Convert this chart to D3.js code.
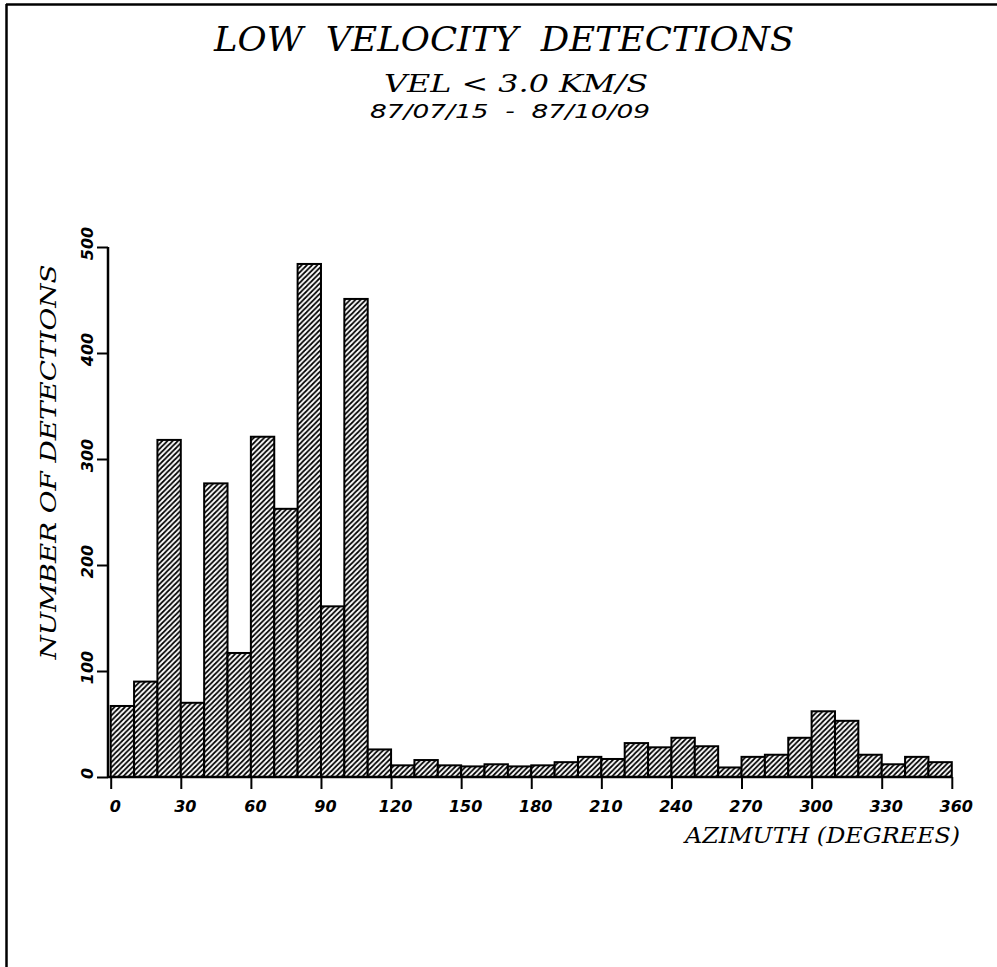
<!DOCTYPE html>
<html><head><meta charset="utf-8">
<script src="https://cdn.jsdelivr.net/npm/d3@7"></script>
<style>
body{margin:0;background:#fff;}
svg{display:block;}
text{white-space:pre;}
</style></head>
<body>
<script>
// Histogram bins: start azimuth (degrees), 10-degree bins
const binStarts = d3.range(0, 360, 10);
const counts = [67, 90, 318, 70, 277, 117, 321, 253, 484, 161, 451, 26,
                11, 16, 11, 10, 12, 10, 11, 14, 19, 17, 32, 28,
                37, 29, 9, 19, 21, 37, 62, 53, 21, 12, 19, 14];
const xTicks = [0, 30, 60, 90, 120, 150, 180, 210, 240, 270, 300, 330, 360];
const yTicks = [0, 100, 200, 300, 400, 500];
const titleLines = ["LOW  VELOCITY  DETECTIONS", "VEL < 3.0 KM/S", "87/07/15  -  87/10/09"];
const xLabel = "AZIMUTH (DEGREES)";
const yLabel = "NUMBER OF DETECTIONS";

const W = 997, H = 967;
const svg = d3.select("body").append("svg").attr("width", W).attr("height", H);

// hatch pattern
const defs = svg.append("defs");
const P = 5.2;
const pat = defs.append("pattern").attr("id", "hatch").attr("patternUnits", "userSpaceOnUse")
  .attr("width", P).attr("height", P);
pat.append("rect").attr("width", P).attr("height", P).attr("fill", "#fff");
pat.append("path").attr("d", `M-1,1 l2,-2 M0,${P} l${P},-${P} M${P-1},${P+1} l2,-2`)
  .attr("stroke", "#000").attr("stroke-width", 1.7);

// frame
svg.append("line").attr("x1", 6).attr("x2", W).attr("y1", 4.5).attr("y2", 4.5).attr("stroke", "#000").attr("stroke-width", 2.5);
svg.append("line").attr("x1", 6.5).attr("x2", 6.5).attr("y1", 4).attr("y2", H).attr("stroke", "#000").attr("stroke-width", 2.5);

const x = d3.scaleLinear().domain([0, 360]).range([110.7, 951.8]);
const y = d3.scaleLinear().domain([0, 500]).range([777, 247]);

// bars
svg.append("g").selectAll("rect").data(binStarts).join("rect")
  .attr("x", d => x(d))
  .attr("y", (d, i) => y(counts[i]))
  .attr("width", d => x(d + 10) - x(d))
  .attr("height", (d, i) => y(0) - y(counts[i]))
  .attr("fill", "url(#hatch)")
  .attr("stroke", "#000").attr("stroke-width", 2);

const tickFont = "DejaVu Sans, Liberation Sans, sans-serif";
const serifFont = "DejaVu Serif, Liberation Serif, serif";

// x axis
const gx = svg.append("g").attr("transform", `translate(0,${y(0)})`)
  .call(d3.axisBottom(x).tickValues(xTicks).tickSize(12).tickSizeOuter(0).tickFormat(d3.format("d")));
gx.select(".domain").attr("stroke-width", 2.5).attr("d", `M${x(0) - 3},0H${x(360)}`);
gx.selectAll(".tick line").attr("stroke-width", 2);
gx.selectAll(".tick text").attr("y", 24).attr("x", 4)
  .attr("font-family", tickFont).attr("font-style", "italic")
  .attr("font-weight", "bold").attr("font-size", 16).attr("fill", "#000");

// y axis
const gy = svg.append("g").attr("transform", `translate(108,0)`)
  .call(d3.axisLeft(y).tickValues(yTicks).tickSize(11).tickSizeOuter(0).tickFormat(d3.format("d")));
gy.select(".domain").attr("stroke-width", 2.5).attr("d", `M0,${y(0)}V${y(500)}`);
gy.selectAll(".tick line").attr("stroke-width", 2);
gy.selectAll(".tick text")
  .attr("x", null).attr("dy", null)
  .attr("transform", "translate(-15,-4) rotate(-90)")
  .attr("text-anchor", "middle")
  .attr("font-family", tickFont).attr("font-style", "italic")
  .attr("font-weight", "bold").attr("font-size", 16).attr("fill", "#000");

// titles
svg.append("text").attr("x", 504).attr("y", 51).attr("text-anchor", "middle")
  .attr("font-family", serifFont).attr("font-style", "italic")
  .attr("font-size", 33).attr("textLength", 580).attr("lengthAdjust", "spacingAndGlyphs").text(titleLines[0]);
svg.append("text").attr("x", 516).attr("y", 92).attr("text-anchor", "middle")
  .attr("font-family", serifFont).attr("font-style", "italic")
  .attr("font-size", 24).attr("textLength", 264).attr("lengthAdjust", "spacingAndGlyphs").text(titleLines[1]);
svg.append("text").attr("x", 510).attr("y", 118).attr("text-anchor", "middle")
  .attr("font-family", tickFont).attr("font-style", "italic")
  .attr("font-size", 19).attr("textLength", 280).attr("lengthAdjust", "spacingAndGlyphs").text(titleLines[2]);

// axis labels
svg.append("text").attr("x", 960).attr("y", 843).attr("text-anchor", "end")
  .attr("font-family", serifFont).attr("font-style", "italic")
  .attr("font-size", 23).attr("textLength", 275).attr("lengthAdjust", "spacingAndGlyphs").text(xLabel);
svg.append("text").attr("transform", "translate(56,462) rotate(-90)").attr("text-anchor", "middle")
  .attr("font-family", serifFont).attr("font-style", "italic")
  .attr("font-size", 23).attr("textLength", 395).attr("lengthAdjust", "spacingAndGlyphs").text(yLabel);
</script>
</body></html>
